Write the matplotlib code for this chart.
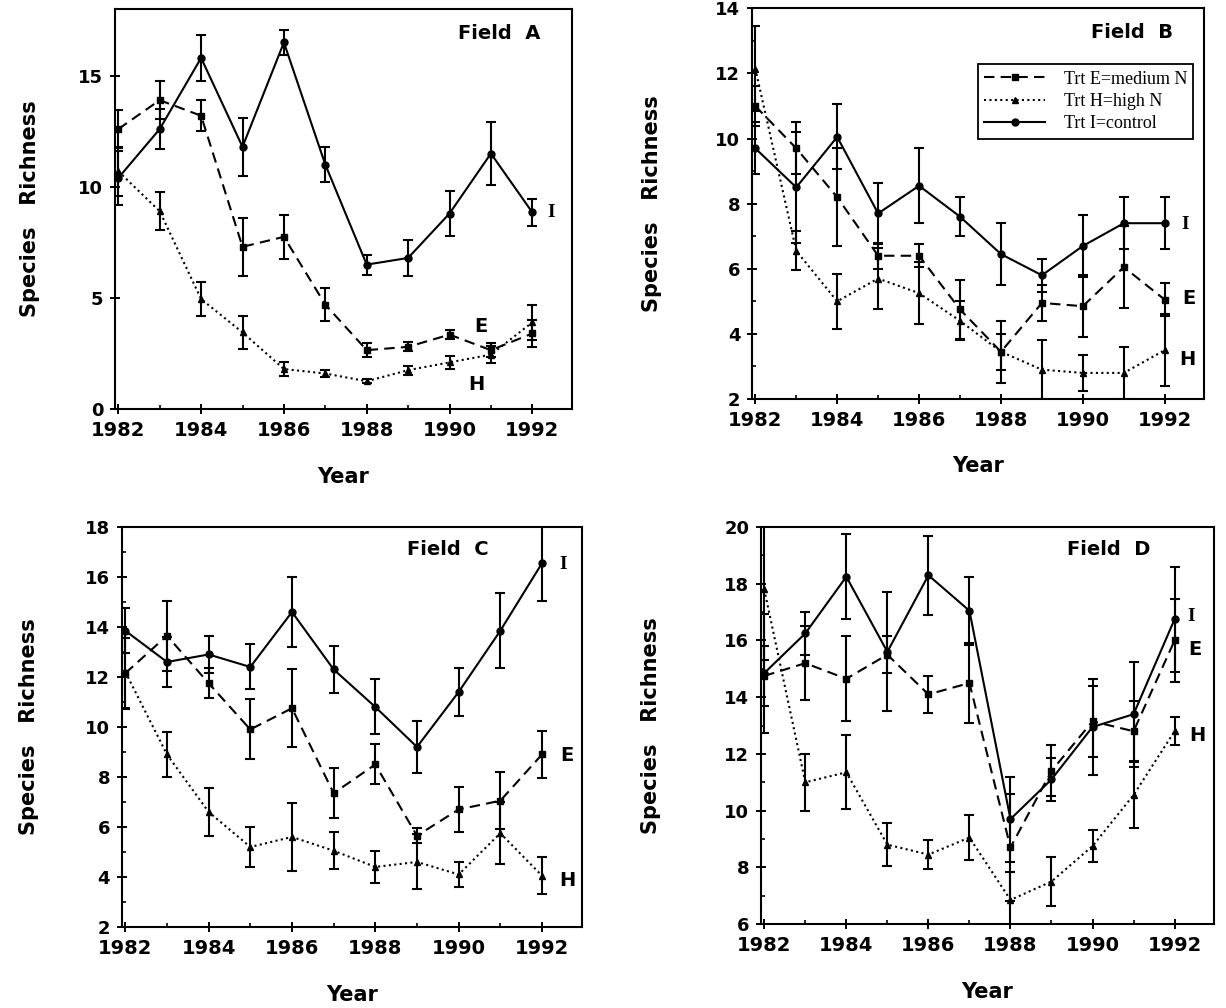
import matplotlib.pyplot as plt
from matplotlib.lines import Line2D
from matplotlib.ticker import MultipleLocator

years = [1982, 1983, 1984, 1985, 1986, 1987, 1988, 1989, 1990, 1991, 1992]

# Field A
a_I = [10.4, 12.6, 15.8, 11.8, 16.5, 11.0, 6.5, 6.8, 8.8, 11.5, 8.85]
a_I_se = [1.2, 0.9, 1.05, 1.3, 0.55, 0.8, 0.45, 0.8, 1.0, 1.4, 0.6]
a_E = [12.6, 13.9, 13.2, 7.3, 7.75, 4.7, 2.65, 2.8, 3.35, 2.65, 3.4]
a_E_se = [0.85, 0.85, 0.7, 1.3, 1.0, 0.75, 0.3, 0.2, 0.2, 0.3, 0.6]
a_H = [10.7, 8.9, 4.95, 3.45, 1.8, 1.6, 1.25, 1.75, 2.1, 2.45, 3.9]
a_H_se = [1.1, 0.85, 0.75, 0.75, 0.3, 0.15, 0.1, 0.2, 0.3, 0.4, 0.8]

# Field B
b_I = [9.7, 8.5, 10.05, 7.7, 8.55, 7.6, 6.45, 5.8, 6.7, 7.4, 7.4]
b_I_se = [0.8, 1.7, 1.0, 0.95, 1.15, 0.6, 0.95, 0.5, 0.95, 0.8, 0.8]
b_E = [11.0, 9.7, 8.2, 6.4, 6.4, 4.75, 3.45, 4.95, 4.85, 6.05, 5.05]
b_E_se = [0.6, 0.8, 1.5, 0.4, 0.35, 0.9, 0.95, 0.55, 0.95, 1.25, 0.5]
b_H = [12.15, 6.55, 5.0, 5.7, 5.25, 4.4, 3.45, 2.9, 2.8, 2.8, 3.5]
b_H_se = [1.3, 0.6, 0.85, 0.95, 0.95, 0.6, 0.55, 0.9, 0.55, 0.8, 1.1]

# Field C
c_I = [13.85, 12.6, 12.9, 12.4, 14.6, 12.3, 10.8, 9.2, 11.4, 13.85, 16.55]
c_I_se = [0.9, 1.0, 0.75, 0.9, 1.4, 0.95, 1.1, 1.05, 0.95, 1.5, 1.5]
c_E = [12.15, 13.65, 11.75, 9.9, 10.75, 7.35, 8.5, 5.65, 6.7, 7.05, 8.9]
c_E_se = [1.4, 1.4, 0.6, 1.2, 1.55, 1.0, 0.8, 0.3, 0.9, 1.15, 0.95]
c_H = [12.2, 8.9, 6.6, 5.2, 5.6, 5.05, 4.4, 4.6, 4.1, 5.75, 4.05]
c_H_se = [1.5, 0.9, 0.95, 0.8, 1.35, 0.75, 0.65, 1.1, 0.5, 1.25, 0.75]

# Field D
d_I = [14.85, 16.25, 18.25, 15.6, 18.3, 17.05, 9.7, 11.1, 12.95, 13.4, 16.75]
d_I_se = [2.1, 0.75, 1.5, 2.1, 1.4, 1.2, 1.5, 0.75, 1.7, 1.85, 1.85]
d_E = [14.75, 15.2, 14.65, 15.5, 14.1, 14.5, 8.7, 11.4, 13.15, 12.8, 16.0]
d_E_se = [1.05, 1.3, 1.5, 0.65, 0.65, 1.4, 1.9, 0.9, 1.25, 1.05, 1.45]
d_H = [17.8, 11.0, 11.35, 8.8, 8.45, 9.05, 6.85, 7.5, 8.75, 10.55, 12.8]
d_H_se = [2.5, 1.0, 1.3, 0.75, 0.5, 0.8, 1.0, 0.85, 0.55, 1.15, 0.5]

legend_labels = ['Trt E=medium N', 'Trt H=high N', 'Trt I=control']

plt.rcParams['font.family'] = 'DejaVu Sans'
plt.rcParams['font.weight'] = 'bold'

fig = plt.figure(figsize=(12.26, 10.08), dpi=100)

panels = [
    # rect, ylim, major, minor, series, field text, end labels (x, y), ylabel x
    dict(rect=[0.0938, 0.5942, 0.3728, 0.3968], ylim=(0, 18), major=5, minor=None,
         data=(a_E, a_E_se, a_H, a_H_se, a_I, a_I_se), title='Field  A', tpos=(1991.2, 16.9),
         ends={'I': (1992.45, 8.85), 'E': (1990.75, 3.7), 'H': (1990.65, 1.1)}, ylx=-0.165),
    dict(rect=[0.6134, 0.6042, 0.3687, 0.3875], ylim=(2, 14), major=2, minor=1,
         data=(b_E, b_E_se, b_H, b_H_se, b_I, b_I_se), title='Field  B', tpos=(1991.2, 13.25),
         ends={'I': (1992.5, 7.35), 'E': (1992.6, 5.1), 'H': (1992.55, 3.2)}, ylx=-0.2),
    dict(rect=[0.0995, 0.0804, 0.3752, 0.3968], ylim=(2, 18), major=2, minor=1,
         data=(c_E, c_E_se, c_H, c_H_se, c_I, c_I_se), title='Field  C', tpos=(1989.75, 17.1),
         ends={'I': (1992.5, 16.5), 'E': (1992.6, 8.85), 'H': (1992.6, 3.85)}, ylx=-0.18),
    dict(rect=[0.6207, 0.0833, 0.3695, 0.3938], ylim=(6, 20), major=2, minor=1,
         data=(d_E, d_E_se, d_H, d_H_se, d_I, d_I_se), title='Field  D', tpos=(1990.4, 19.2),
         ends={'I': (1992.4, 16.85), 'E': (1992.5, 15.7), 'H': (1992.55, 12.65)}, ylx=-0.22),
]

styles = [dict(ls=(0, (5, 3)), marker='s', ms=5),
          dict(ls=(0, (1, 1.6)), marker='^', ms=5),
          dict(ls='-', marker='o', ms=5)]

for i, p in enumerate(panels):
    ax = fig.add_axes(p['rect'])
    e, e_se, h, h_se, ctl, ctl_se = p['data']
    for (m, se), st in zip([(e, e_se), (h, h_se), (ctl, ctl_se)], styles):
        ax.errorbar(years, m, yerr=se, color='black', lw=1.5, elinewidth=1.5,
                    capsize=3.5, capthick=1.5, **st)
    ax.set_xlim(1981.92, 1992.96)
    ax.set_ylim(*p['ylim'])
    ax.xaxis.set_major_locator(MultipleLocator(2))
    ax.xaxis.set_minor_locator(MultipleLocator(1))
    ax.yaxis.set_major_locator(MultipleLocator(p['major']))
    if p['minor']:
        ax.yaxis.set_minor_locator(MultipleLocator(p['minor']))
    ax.tick_params(which='major', direction='inout', length=7, width=1.4, pad=5)
    ax.tick_params(which='minor', direction='in', length=3, width=1.2)
    ax.tick_params(axis='x', labelsize=14)
    ax.tick_params(axis='y', labelsize=13)
    for lbl in ax.get_xticklabels() + ax.get_yticklabels():
        lbl.set_fontweight('bold')
    for s in ax.spines.values():
        s.set_linewidth(1.5)
    ax.set_xlabel('Year', fontsize=15, fontweight='bold')
    ax.xaxis.set_label_coords(0.5, -0.145)
    ax.set_ylabel('Species   Richness', fontsize=15, fontweight='bold')
    ax.yaxis.set_label_coords(p['ylx'], 0.5)
    ax.text(p['tpos'][0], p['tpos'][1], p['title'], fontsize=14, fontweight='bold',
            ha='center', va='center')
    for k, (x, y) in p['ends'].items():
        fam = 'Liberation Serif' if k == 'I' else 'DejaVu Sans'
        ax.text(x, y, k, fontsize=14, fontweight='bold', family=fam,
                ha='center', va='center')
    if i == 1:
        handles = [Line2D([], [], color='black', lw=1.5, **st) for st in styles]
        leg = ax.legend(handles, legend_labels, loc='upper right', bbox_to_anchor=(0.976, 0.857),
                        prop={'family': 'Liberation Serif', 'size': 13, 'weight': 'normal'},
                        frameon=True, fancybox=False, framealpha=1, edgecolor='black',
                        handlelength=3.4, borderpad=0.35, labelspacing=0.3,
                        handletextpad=1.0, borderaxespad=0)
        leg.get_frame().set_linewidth(1.3)

fig.savefig('out.png', dpi=100)
